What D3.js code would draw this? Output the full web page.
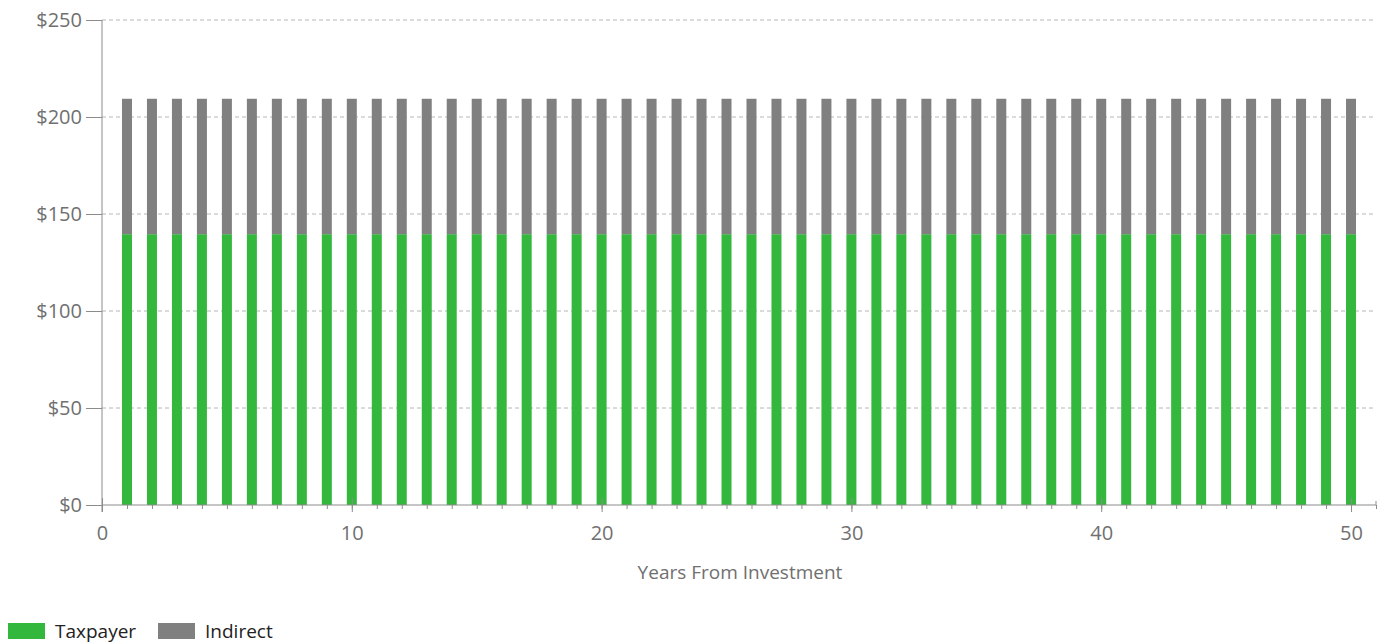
<!DOCTYPE html>
<html>
<head>
<meta charset="utf-8">
<script src="https://cdn.jsdelivr.net/npm/d3@7"></script>
<style>
  html, body { margin: 0; padding: 0; background: #fff; }
  svg { display: block; font-family: "Open Sans", sans-serif; }
</style>
</head>
<body>
<svg id="chart" width="1387" height="644"></svg>
<script>
// Years 1..50, each year has the same split between taxpayer and indirect benefit
const years = d3.range(1, 51);
const taxpayer = [
  139.6, 139.6, 139.6, 139.6, 139.6, 139.6, 139.6, 139.6, 139.6, 139.6,
  139.6, 139.6, 139.6, 139.6, 139.6, 139.6, 139.6, 139.6, 139.6, 139.6,
  139.6, 139.6, 139.6, 139.6, 139.6, 139.6, 139.6, 139.6, 139.6, 139.6,
  139.6, 139.6, 139.6, 139.6, 139.6, 139.6, 139.6, 139.6, 139.6, 139.6,
  139.6, 139.6, 139.6, 139.6, 139.6, 139.6, 139.6, 139.6, 139.6, 139.6
];
const indirect = [
  69.8, 69.8, 69.8, 69.8, 69.8, 69.8, 69.8, 69.8, 69.8, 69.8,
  69.8, 69.8, 69.8, 69.8, 69.8, 69.8, 69.8, 69.8, 69.8, 69.8,
  69.8, 69.8, 69.8, 69.8, 69.8, 69.8, 69.8, 69.8, 69.8, 69.8,
  69.8, 69.8, 69.8, 69.8, 69.8, 69.8, 69.8, 69.8, 69.8, 69.8,
  69.8, 69.8, 69.8, 69.8, 69.8, 69.8, 69.8, 69.8, 69.8, 69.8
];
const seriesNames = ['Taxpayer', 'Indirect'];
const seriesColors = ['#33b73d', '#808080'];
const yTicks = [0, 50, 100, 150, 200, 250];
const xTicks = [0, 10, 20, 30, 40, 50];

const svg = d3.select('#chart');
const x = d3.scaleLinear().domain([0, 51]).range([102, 1376]);
const y = d3.scaleLinear().domain([0, 250]).range([505, 20]);

const axisColor = '#8c8c8c';
const labelColor = '#707070';

// Gridlines
svg.append('g')
  .selectAll('line')
  .data(yTicks.filter(d => d > 0))
  .join('line')
  .attr('x1', x(0)).attr('x2', x(51))
  .attr('y1', d => y(d)).attr('y2', d => y(d))
  .attr('stroke', '#b6b6b6')
  .attr('stroke-width', 1)
  .attr('stroke-dasharray', '4,3');

// Stacked bars
const table = years.map((yr, i) => ({ year: yr, Taxpayer: taxpayer[i], Indirect: indirect[i] }));
const stacked = d3.stack().keys(seriesNames)(table);
const barW = 10;

svg.append('g')
  .selectAll('g')
  .data(stacked)
  .join('g')
  .attr('fill', (d, i) => seriesColors[i])
  .selectAll('rect')
  .data(d => d)
  .join('rect')
  .attr('x', d => x(d.data.year) - barW / 2)
  .attr('y', d => y(d[1]))
  .attr('width', barW)
  .attr('height', d => y(d[0]) - y(d[1]));

// Y axis
const yAxis = svg.append('g')
  .attr('transform', `translate(${x(0)},0)`)
  .call(d3.axisLeft(y).tickValues(yTicks).tickSize(16).tickPadding(4)
    .tickFormat(d => '$' + d));
yAxis.select('.domain').remove();
yAxis.selectAll('.tick line').attr('stroke', axisColor);
yAxis.selectAll('.tick text')
  .attr('fill', labelColor)
  .attr('font-size', 20)
  .attr('font-family', '"Open Sans", sans-serif');
yAxis.append('line')
  .attr('x1', 0).attr('x2', 0)
  .attr('y1', y(250)).attr('y2', y(0) + 7)
  .attr('stroke', axisColor);

// X axis: minor ticks every year, major labelled every ten
const xAxisG = svg.append('g').attr('transform', `translate(0,${y(0)})`);
xAxisG.call(d3.axisBottom(x).tickValues(d3.range(0, 52)).tickSize(4).tickFormat(''));
xAxisG.select('.domain').attr('stroke', axisColor).attr('d', `M${x(0)},0H${x(51)}V-4`);
xAxisG.selectAll('.tick line').attr('stroke', axisColor);

const major = svg.append('g').attr('transform', `translate(0,${y(0)})`)
  .call(d3.axisBottom(x).tickValues(xTicks).tickSize(7).tickPadding(14));
major.select('.domain').remove();
major.selectAll('.tick line').attr('stroke', axisColor).attr('y1', -7);
major.selectAll('.tick text')
  .attr('fill', labelColor)
  .attr('font-size', 20)
  .attr('font-family', '"Open Sans", sans-serif');

// Axis title
svg.append('text')
  .attr('x', 740).attr('y', 579)
  .attr('text-anchor', 'middle')
  .attr('fill', labelColor)
  .attr('font-size', 19)
  .text('Years From Investment');

// Legend
const legendX = [8, 158];
const legend = svg.append('g')
  .selectAll('g')
  .data(seriesNames)
  .join('g')
  .attr('transform', (d, i) => `translate(${legendX[i]},623)`);
legend.append('rect')
  .attr('width', 37).attr('height', 16)
  .attr('fill', (d, i) => seriesColors[i]);
legend.append('text')
  .attr('x', 47).attr('y', 15)
  .attr('fill', '#222')
  .attr('font-size', 19)
  .text(d => d);
</script>
</body>
</html>
